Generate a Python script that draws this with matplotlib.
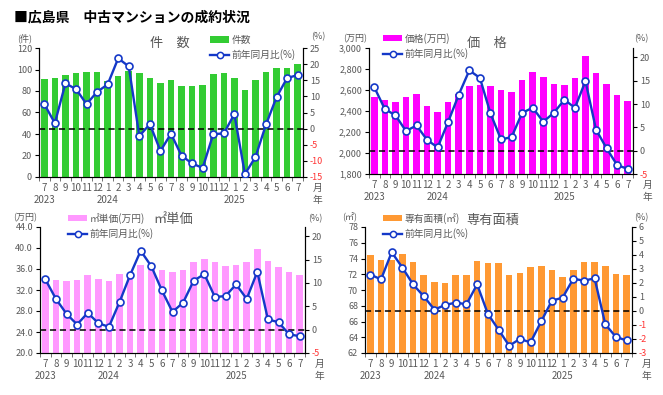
import numpy as np
import matplotlib
matplotlib.use("Agg")
import matplotlib.pyplot as plt
from matplotlib.lines import Line2D
from matplotlib.patches import Patch
import matplotlib.transforms as mtrans

plt.rcParams['font.family'] = ['Noto Sans CJK JP', 'DejaVu Sans']

# months 2023/7 .. 2025/7
months = ['7', '8', '9', '10', '11', '12', '1', '2', '3', '4', '5', '6',
          '7', '8', '9', '10', '11', '12', '1', '2', '3', '4', '5', '6', '7']
years = {0: '2023', 6: '2024', 18: '2025'}

count_vals = [91, 92, 95, 97, 98, 98, 89, 94, 99, 97, 92, 87,
              90, 85, 85, 85.5, 96, 97, 92, 81, 90, 98, 101, 101, 105]
count_yoy = [7.6, 1.7, 14.0, 12.3, 7.6, 11.4, 13.7, 21.8, 19.3, -2.3, 1.4, -6.9,
             -1.6, -8.4, -10.8, -12.2, -1.7, -1.5, 4.5, -14.1, -8.8, 1.3, 9.8, 15.7, 16.6]

price_vals = [2538, 2507, 2488, 2535, 2564, 2449, 2386, 2484, 2560, 2640, 2643, 2640,
              2602, 2580, 2691, 2774, 2726, 2656, 2647, 2714, 2920, 2764, 2659, 2554, 2500]
price_yoy = [13.6, 8.9, 7.6, 4.2, 5.4, 2.3, 0.7, 6.2, 12.0, 17.2, 15.6, 8.0,
             2.4, 2.9, 8.1, 9.2, 6.2, 8.1, 10.9, 9.2, 14.9, 4.5, 0.5, -3.1, -3.9]

unit_vals = [34.2, 34.0, 33.8, 34.0, 34.8, 34.1, 33.7, 35.0, 35.2, 36.7, 36.2, 35.9,
             35.4, 35.9, 37.3, 38.0, 37.3, 36.6, 36.8, 37.3, 39.8, 37.5, 36.4, 35.5, 34.8]
unit_yoy = [10.8, 6.6, 3.4, 1.1, 3.6, 1.4, 0.6, 5.9, 11.7, 16.9, 13.6, 8.4,
            3.8, 5.8, 10.5, 11.9, 7.0, 7.2, 9.7, 6.6, 12.4, 2.2, 1.6, -1.0, -1.4]

area_vals = [74.4, 73.8, 73.8, 74.6, 73.6, 71.9, 71.0, 70.9, 71.9, 71.9, 73.7, 73.4,
             73.4, 71.9, 72.2, 72.9, 73.0, 72.5, 71.7, 72.5, 73.5, 73.6, 73.0, 72.0, 71.9]
area_yoy = [2.6, 2.26, 4.2, 3.1, 1.9, 1.05, 0.1, 0.43, 0.6, 0.48, 1.9, -0.2,
            -1.33, -2.48, -2.0, -2.24, -0.74, 0.74, 0.95, 2.3, 2.17, 2.33, -0.95, -1.86, -2.1]

W, H = 663, 395
fig = plt.figure(figsize=(W / 100, H / 100), dpi=100)
fig.patch.set_facecolor('white')

GRAY = '#595959'
BLUE = '#1438c8'


def px(x0, y0, x1, y1):
    return [x0 / W, 1 - y1 / H, (x1 - x0) / W, (y1 - y0) / H]


def panel(rect, vals, yoy, color, ylim, yticks, yfmt, rlim, rticks,
          title, title_xy, unit, unit_xy, punit_xy, bar_label, leg_xy):
    ax = fig.add_axes(px(*rect))
    x = np.arange(len(vals))
    ax.bar(x, vals, width=0.62, color=color, zorder=2)
    ax.set_xlim(-0.5, len(vals) - 0.5)
    ax.set_ylim(*ylim)
    ax.set_yticks(yticks)
    ax.set_yticklabels([yfmt(v) for v in yticks])
    ax.set_xticks(x)
    ax.set_xticklabels([])
    ax.set_xticks(np.arange(len(vals) + 1) - 0.5, minor=True)
    ax.tick_params(axis='x', which='major', length=0)
    ax.tick_params(axis='x', which='minor', length=3, color=GRAY, direction='out')
    ax.tick_params(axis='y', labelsize=6.5, labelcolor=GRAY, length=3,
                   direction='out', pad=2, color='black')
    ax.spines['top'].set_visible(False)
    ax.spines['bottom'].set_color(GRAY)

    # month / year labels
    tr = mtrans.blended_transform_factory(ax.transData, fig.transFigure)
    by = rect[3]
    for i, m in enumerate(months):
        ax.text(i, 1 - (by + 11) / H, m, transform=tr, ha='center', va='center',
                fontsize=7, color=GRAY)
    for i, yv in years.items():
        ax.text(i, 1 - (by + 23) / H, yv, transform=tr, ha='center', va='center',
                fontsize=7, color=GRAY)
    ax.text(len(vals) + 0.85, 1 - (by + 11) / H, '月', transform=tr, ha='center',
            va='center', fontsize=7, color=GRAY)
    ax.text(len(vals) + 0.85, 1 - (by + 23) / H, '年', transform=tr, ha='center',
            va='center', fontsize=7, color=GRAY)

    ax2 = ax.twinx()
    ax2.set_ylim(*rlim)
    ax2.set_yticks(rticks)
    ax2.set_yticklabels([str(v) for v in rticks])
    ax2.tick_params(axis='y', labelsize=6.5, labelcolor=GRAY, length=3,
                    direction='out', pad=2)
    for lab, v in zip(ax2.get_yticklabels(), rticks):
        if v < 0:
            lab.set_color('#ff3333')
    ax2.spines['top'].set_visible(False)
    ax2.axhline(0, color='black', ls=(0, (4, 2.5)), lw=1.1, zorder=3)
    ax2.plot(x, yoy, color=BLUE, lw=1.7, marker='o', ms=5, mfc='white',
             mec=BLUE, mew=1.2, zorder=4)

    fig.text(title_xy[0] / W, 1 - title_xy[1] / H, title, ha='center', va='center',
             fontsize=9.5, color=GRAY)
    fig.text(unit_xy[0] / W, 1 - unit_xy[1] / H, unit, ha='center', va='center',
             fontsize=6.5, color=GRAY)
    fig.text(punit_xy[0] / W, 1 - punit_xy[1] / H, '(%)', ha='center', va='center',
             fontsize=6.5, color=GRAY)

    handles = [Patch(facecolor=color, edgecolor='none'),
               Line2D([], [], color=BLUE, lw=1.7, marker='o', ms=4.5, mfc='white',
                      mec=BLUE, mew=1.1)]
    fig.legend(handles, [bar_label, '前年同月比(%)'], loc='upper left',
               bbox_to_anchor=(leg_xy[0] / W, 1 - leg_xy[1] / H),
               frameon=False, fontsize=7, handlelength=2.0, handleheight=0.6,
               handletextpad=0.2, labelspacing=0.45, borderpad=0, borderaxespad=0,
               labelcolor=GRAY)
    return ax, ax2


panel((39, 48, 303, 177), count_vals, count_yoy, '#33cc33', (0, 120),
      range(0, 121, 20), lambda v: f'{v}', (-15, 25), list(range(-15, 26, 5)),
      '件　数', (170, 43), '(件)', (25, 38), (318, 37), '件数', (210, 35))

panel((369, 48, 633, 174), price_vals, price_yoy, '#ff00ff', (1800, 3000),
      range(1800, 3001, 200), lambda v: f'{v:,}', (-5, 22), list(range(-5, 21, 5)),
      '価　格', (487, 43), '(万円)', (355, 39), (641, 39), '価格(万円)', (383, 33))

panel((40, 227, 305, 353), unit_vals, unit_yoy, '#ff99ff', (20, 44),
      np.arange(20, 44.1, 4), lambda v: f'{v:.1f}', (-5, 22), list(range(-5, 21, 5)),
      '㎡単価', (173, 220), '(万円)', (25, 218), (315, 219), '㎡単価(万円)', (68, 213))

panel((365, 227, 632, 353), area_vals, area_yoy, '#ff9933', (62, 78),
      range(62, 79, 2), lambda v: f'{v}', (-3, 6), list(range(-3, 7)),
      '専有面積', (493, 220), '(㎡)', (350, 217), (641, 218), '専有面積(㎡)', (383, 213))

fig.text(14 / W, 1 - 17 / H, '■広島県　中古マンションの成約状況', ha='left', va='center',
         fontsize=10, fontweight='bold', color='black')

fig.savefig('out.png', dpi=100)
